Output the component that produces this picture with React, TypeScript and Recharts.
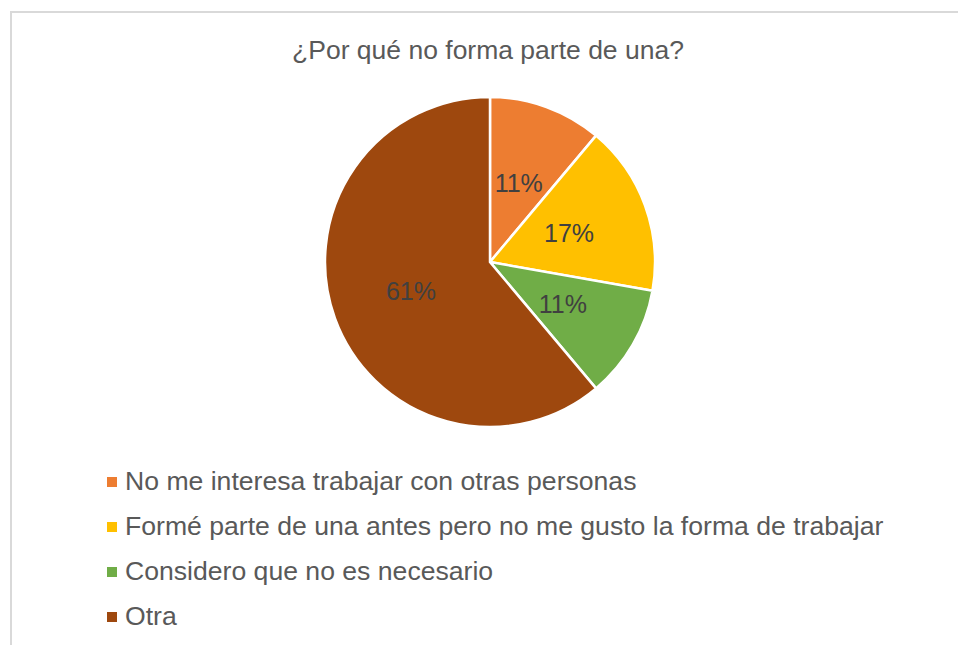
import React from 'react';
import { PieChart, Pie, Cell, Legend } from 'recharts';

const categories = [
  'No me interesa trabajar con otras personas',
  'Formé parte de una antes pero no me gusto la forma de trabajar',
  'Considero que no es necesario',
  'Otra',
];
const values = [2, 3, 2, 11];
const colors = ['#ED7D31', '#FFC000', '#70AD47', '#9E480E'];
const title = '¿Por qué no forma parte de una?';

const data = categories.map((name, i) => ({ name, value: values[i] }));

const RAD = Math.PI / 180;
const FONT = "'Liberation Sans', Arial, sans-serif";

const renderLabel = (props: any) => {
  const { cx, cy, midAngle, outerRadius, percent } = props;
  const r = outerRadius * 0.51;
  const x = cx + r * Math.cos(-midAngle * RAD);
  const y = cy + r * Math.sin(-midAngle * RAD);
  return (
    <text
      x={x}
      y={y}
      fill="#404040"
      fontSize={25}
      fontFamily={FONT}
      textAnchor="middle"
      dominantBaseline="central"
    >
      {Math.round(percent * 100) + '%'}
    </text>
  );
};

const renderLegend = () => {
  return (
    <div style={{ fontFamily: FONT }}>
      {categories.map((name, i) => (
        <div
          key={name}
          style={{
            display: 'flex',
            alignItems: 'center',
            height: 45,
            fontSize: 26.6,
            color: '#595959',
            whiteSpace: 'nowrap',
          }}
        >
          <span
            style={{
              display: 'inline-block',
              width: 10,
              height: 10,
              background: colors[i],
              marginRight: 8,
            }}
          />
          <span>{name}</span>
        </div>
      ))}
    </div>
  );
};

export default function App() {
  return (
    <div style={{ position: 'absolute', left: 0, top: 0, width: 958, height: 645, background: '#fff', overflow: 'hidden' }}>
      <div
        style={{
          position: 'absolute',
          left: 10,
          top: 11,
          width: 1000,
          height: 700,
          borderTop: '2px solid #d9d9d9',
          borderLeft: '2px solid #d9d9d9',
        }}
      />
      <div
        style={{
          position: 'absolute',
          left: 0,
          width: 976,
          top: 34,
          textAlign: 'center',
          fontFamily: FONT,
          fontSize: 26.5,
          color: '#595959',
          lineHeight: '32px',
        }}
      >
        {title}
      </div>
      <div style={{ position: 'absolute', left: 0, top: 0 }}>
        <PieChart width={958} height={645} margin={{ top: 0, right: 0, bottom: 0, left: 0 }}>
          <Pie
            data={data}
            dataKey="value"
            nameKey="name"
            cx={490}
            cy={262}
            outerRadius={165}
            startAngle={90}
            endAngle={-270}
            stroke="#ffffff"
            strokeWidth={2.5}
            label={renderLabel}
            labelLine={false}
            isAnimationActive={false}
          >
            {data.map((d, i) => (
              <Cell key={d.name} fill={colors[i]} />
            ))}
          </Pie>
          <Legend
            content={renderLegend}
            wrapperStyle={{ position: 'absolute', left: 107, top: 459, width: 840 }}
          />
        </PieChart>
      </div>
    </div>
  );
}
